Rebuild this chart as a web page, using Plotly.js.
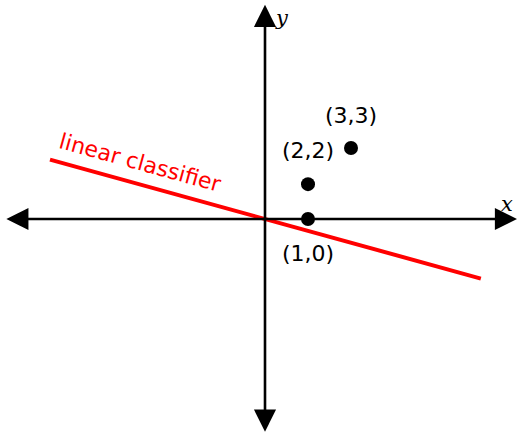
<!DOCTYPE html>
<html>
<head>
<meta charset="utf-8">
<script src="https://cdn.plot.ly/plotly-3.0.1.min.js"></script>
<style>html,body{margin:0;padding:0;background:#fff;}#chart{width:523px;height:436px;}</style>
</head>
<body>
<div id="chart"></div>
<script>
// point data (plot units)
const pointX = [1, 1, 2];
const pointY = [0, 0.81, 1.65];
const pointLabels = ['(1,0)', '(2,2)', '(3,3)'];
// classifier line
const lineX = [-5, 5.02];
const lineY = [1.38, -1.385];
const lineLabel = 'linear classifier';
// axis extents
const axisX = [-6.05, 5.86];
const axisY = [-4.98, 4.98];

const labelShift = [-34, 34, 33];

const traces = [
  {x: lineX, y: lineY, mode: 'lines', line: {color: '#ff0000', width: 4}, hoverinfo: 'skip'},
  {x: pointX, y: pointY, mode: 'markers', marker: {color: '#000', size: 14}, hoverinfo: 'skip'}
];

const annotations = [];
// axes arrows
annotations.push({x: axisX[1], y: 0, ax: axisX[0], ay: 0, xref: 'x', yref: 'y', axref: 'x', ayref: 'y',
  showarrow: true, arrowside: 'end+start', arrowhead: 2, arrowsize: 1.7, arrowwidth: 2.6, arrowcolor: '#000', text: ''});
annotations.push({x: 0, y: axisY[1], ax: 0, ay: axisY[0], xref: 'x', yref: 'y', axref: 'x', ayref: 'y',
  showarrow: true, arrowside: 'end+start', arrowhead: 2, arrowsize: 1.7, arrowwidth: 2.6, arrowcolor: '#000', text: ''});
// axis names
annotations.push({x: axisX[1], y: 0, xref: 'x', yref: 'y', text: 'x', showarrow: false, xshift: -10, yshift: 15,
  font: {family: 'DejaVu Serif', size: 21, color: '#000', style: 'italic'}});
annotations.push({x: 0, y: axisY[1], xref: 'x', yref: 'y', text: 'y', showarrow: false, xshift: 17, yshift: -13,
  font: {family: 'DejaVu Serif', size: 21, color: '#000', style: 'italic'}});
// point labels
pointLabels.forEach((t, i) => {
  annotations.push({x: pointX[i], y: pointY[i], xref: 'x', yref: 'y', text: t, showarrow: false, yshift: labelShift[i],
    font: {family: 'DejaVu Sans', size: 22, color: '#000'}});
});
// line label
annotations.push({x: (140 - 265) / 43, y: (219 - 162) / 43, xref: 'x', yref: 'y', text: lineLabel, showarrow: false,
  textangle: 15.4, font: {family: 'DejaVu Sans', size: 22, color: '#ff0000'}});

const layout = {
  width: 523, height: 436,
  margin: {l: 0, r: 0, t: 0, b: 0},
  paper_bgcolor: '#fff', plot_bgcolor: '#fff',
  showlegend: false,
  xaxis: {range: [-265 / 43, 258 / 43], showgrid: false, zeroline: false, showticklabels: false, showline: false, ticks: ''},
  yaxis: {range: [-217 / 43, 219 / 43], showgrid: false, zeroline: false, showticklabels: false, showline: false, ticks: ''},
  annotations: annotations
};

Plotly.newPlot('chart', traces, layout, {displayModeBar: false, staticPlot: true});
</script>
</body>
</html>
